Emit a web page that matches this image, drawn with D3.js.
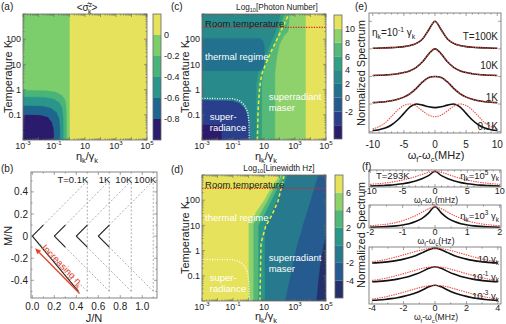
<!DOCTYPE html>
<html><head><meta charset="utf-8">
<script src="https://cdn.jsdelivr.net/npm/d3@7"></script>
<style>body{margin:0;background:#fff} svg{font-family:'Liberation Sans',Arial,sans-serif}</style>
</head><body><script>
// ---------------- data ----------------
// (a) <sigma_z> contour bands, polygons in (log10 eta/gamma, log10 T)
const aEdges = [-1.0, -0.8, -0.6, -0.4, -0.2, 0, 0.2];
const aLabels = [0, -0.2, -0.4, -0.6, -0.8];
const aRegions = [
  {band: 5, pts: [[-3,-2],[5,-2],[5,3],[-3,3]]},
  {band: 4, pts: [[-3,-2],[0,-2],[0,3],[-3,3]]},
  {band: 3, pts: [[-3,-2],[-0.2,-2],[-0.2,-1],[-0.22,-0.65],[-0.3,-0.4],[-0.5,-0.22],[-0.9,-0.1],[-1.5,-0.05],[-3,-0.03]]},
  {band: 2, pts: [[-3,-2],[-0.4,-2],[-0.41,-1.1],[-0.47,-0.75],[-0.65,-0.52],[-1.0,-0.38],[-1.6,-0.31],[-3,-0.29]]},
  {band: 1, pts: [[-3,-2],[-0.62,-2],[-0.62,-1.5],[-0.68,-1.15],[-0.85,-0.9],[-1.2,-0.74],[-1.7,-0.66],[-3,-0.64]]},
  {band: 0, pts: [[-3,-2],[-1.0,-2],[-1.03,-1.6],[-1.15,-1.3],[-1.4,-1.1],[-1.9,-1.02],[-3,-1.0]]}
];

// (c) log10 photon number
const cEdges = [-6, -4, -2, 0, 2, 4, 6, 8, 10, 12];
const cLabels = [10, 8, 6, 4, 2, 0, -2];
const cRegions = [
  {band: 7, pts: [[-3,-2],[5,-2],[5,3],[-3,3]]},
  {band: 8, pts: [[3.7,-2],[5,-2],[5,3],[3.7,3]]},
  {band: 6, pts: [[-3,-2],[1.7,-2],[1.7,0.6],[1.8,1.2],[2.0,1.8],[2.3,2.15],[2.55,2.3],[2.6,2.6],[2.65,3],[-3,3]]},
  {band: 5, pts: [[-3,-2],[0.85,-2],[0.85,0.2],[0.95,0.7],[1.25,1.2],[1.6,1.7],[1.9,2.2],[2.1,2.6],[2.3,3],[-3,3]]},
  {band: 4, pts: [[-3,-2],[0.5,-2],[0.5,0.2],[0.62,0.7],[0.95,1.15],[1.3,1.65],[1.65,2.15],[1.9,2.6],[2.05,3],[-3,3]]},
  {band: 3, pts: [[-3,0.75],[0.75,0.75],[0.95,0.85],[1.02,1.1],[1.02,1.7],[0.95,1.92],[0.75,2.03],[-3,2.03]]},
  {band: 1, pts: [[-3,-2],[0.08,-2],[0.05,-1.4],[-0.05,-1.05],[-0.25,-0.75],[-0.55,-0.55],[-1.0,-0.45],[-3,-0.42]]},
  {band: 0, pts: [[-3,-2],[-1.73,-2],[-1.75,-1.4],[-3,-1.4]]}
];
const cDashed = [[0.57,-2],[0.62,-0.8],[0.72,0.1],[0.85,0.6],[1.1,1.0],[1.45,1.5],[2.0,2.2],[2.3,2.6],[2.6,3]];

// (d) log10 linewidth
const dEdges = [-6, -4, -2, 0, 2, 4, 6, 8];
const dLabels = [6, 4, 2, 0, -2, -4];
const dRegions = [
  {band: 1, pts: [[-3,-2],[5,-2],[5,3],[-3,3]]},
  {band: 2, pts: [[-3,-2],[2.35,-2],[2.7,-1],[3.1,0.15],[3.6,1.2],[4.0,2.0],[4.3,2.6],[4.5,3],[-3,3]]},
  {band: 0, pts: [[4.4,-2],[5,-2],[5,0.55],[4.85,0.2],[4.65,-0.5],[4.5,-1.3]]},
  {band: 3, pts: [[-3,-2],[1.05,-2],[1.05,0.9],[1.35,1.3],[1.7,1.8],[2.1,2.4],[2.35,2.7],[2.5,3],[-3,3]]},
  {band: 4, pts: [[-3,-2],[0.63,-2],[0.63,1.0],[0.95,1.35],[1.4,1.9],[1.85,2.45],[2.1,2.7],[2.3,3],[-3,3]]},
  {band: 5, pts: [[-3,-2],[0.31,-2],[0.31,1.05],[0.7,1.4],[1.2,1.95],[1.65,2.5],[1.95,2.75],[2.15,3],[-3,3]]},
  {band: 6, pts: [[-3,-2],[0.0,-2],[0.0,1.1],[0.4,1.45],[1.0,2.0],[1.5,2.55],[1.8,2.8],[2.0,3],[-3,3]]}
];
const dDashed = [[0.74,-2],[0.78,-0.5],[0.81,0.3],[1.1,0.95],[1.5,1.4],[1.9,1.95],[2.2,2.7],[2.3,3]];

// superradiance boundary (white dotted) and room temperature (293 K)
const srBoundary = [[-3,-0.35],[-1.0,-0.36],[-0.55,-0.45],[-0.25,-0.62],[-0.05,-0.9],[0.03,-1.3],[0.05,-2]];
const roomT = Math.log10(293);

// (b) angular momentum chevrons
const bTemps = ['T=0.1K', '1K', '10K', '100K'];
const bVertex = [0, 0.2, 0.4, 0.6];
const bSolidUp = [[0.1, 0.1], [0.1, 0.1], [0.1, 0.1], [0.1, 0.1]];
const bSolidDown = [[0.42, -0.5], [0.1, -0.1], [0.1, -0.1], [0.1, -0.1]];
const bArrow = [[0.43, -0.52], [0.025, -0.11]];

// (e) spectra, x in MHz, values normalised to 1
const eX = [-10,-9,-8,-7,-6,-5,-4,-3,-2,-1,0,1,2,3,4,5,6,7,8,9,10];
const eOffsets = [3, 2, 1, 0];
const eTempLabels = ['T=100K', '10K', '1K', '0.1K'];
const eBlack100K = [0.022,0.027,0.034,0.045,0.06,0.08,0.12,0.2,0.36,0.69,1,0.69,0.36,0.2,0.12,0.08,0.06,0.045,0.034,0.027,0.022];
const eRed100K   = [0.022,0.027,0.034,0.045,0.06,0.08,0.12,0.2,0.36,0.69,1,0.69,0.36,0.2,0.12,0.08,0.06,0.045,0.034,0.027,0.022];
const eBlack10K  = [0.035,0.043,0.055,0.072,0.1,0.14,0.21,0.33,0.53,0.82,1,0.82,0.53,0.33,0.21,0.14,0.1,0.072,0.055,0.043,0.035];
const eRed10K    = [0.035,0.043,0.055,0.072,0.1,0.14,0.21,0.33,0.53,0.82,1,0.82,0.53,0.33,0.21,0.14,0.1,0.072,0.055,0.043,0.035];
const eBlack1K   = [0.05,0.065,0.085,0.12,0.17,0.25,0.38,0.57,0.8,0.96,1,0.96,0.8,0.57,0.38,0.25,0.17,0.12,0.085,0.065,0.05];
const eRed1K     = [0.05,0.065,0.085,0.12,0.17,0.25,0.38,0.58,0.81,0.96,1,0.96,0.81,0.58,0.38,0.25,0.17,0.12,0.085,0.065,0.05];
const eBlack01K  = [0.04,0.07,0.13,0.24,0.42,0.66,0.9,1.0,0.96,0.9,0.87,0.9,0.96,1.0,0.9,0.66,0.42,0.24,0.13,0.07,0.04];
const eRed01K    = [0.1,0.18,0.32,0.55,0.78,0.95,1.0,0.92,0.75,0.6,0.54,0.6,0.75,0.92,1.0,0.95,0.78,0.55,0.32,0.18,0.1];

// (f) spectra at room temperature
const f1X = [-10,-9,-8,-7,-6,-5,-4,-3,-2,-1,0,1,2,3,4,5,6,7,8,9,10];
const f1Black = [0.06,0.08,0.1,0.12,0.16,0.21,0.28,0.38,0.52,0.72,1,0.72,0.52,0.38,0.28,0.21,0.16,0.12,0.1,0.08,0.06];
const f1Red   = [0.17,0.2,0.24,0.29,0.36,0.44,0.54,0.66,0.8,0.93,1,0.93,0.8,0.66,0.54,0.44,0.36,0.29,0.24,0.2,0.17];
const f2X = [-2,-1.8,-1.6,-1.4,-1.2,-1,-0.8,-0.6,-0.4,-0.2,0,0.2,0.4,0.6,0.8,1,1.2,1.4,1.6,1.8,2];
const f2Black = [0.035,0.045,0.06,0.075,0.1,0.14,0.2,0.3,0.45,0.7,1,0.7,0.45,0.3,0.2,0.14,0.1,0.075,0.06,0.045,0.035];
const f2Red   = [0.1,0.13,0.16,0.2,0.26,0.34,0.45,0.58,0.74,0.9,1,0.9,0.74,0.58,0.45,0.34,0.26,0.2,0.16,0.13,0.1];
const f3X = [-4,-3.6,-3.2,-2.8,-2.4,-2,-1.6,-1.2,-0.8,-0.4,0,0.4,0.8,1.2,1.6,2,2.4,2.8,3.2,3.6,4];
const f3Offsets = [2, 1, 0];
const f3Labels = [['10 γ','k'], ['10','-1',' γ','k'], ['10','-3',' γ','k']];
const f3Black10 = [0.08,0.1,0.13,0.18,0.24,0.32,0.42,0.55,0.72,0.9,1,0.9,0.72,0.55,0.42,0.32,0.24,0.18,0.13,0.1,0.08];
const f3Red10   = [0.16,0.21,0.28,0.37,0.47,0.58,0.69,0.8,0.9,0.97,1,0.97,0.9,0.8,0.69,0.58,0.47,0.37,0.28,0.21,0.16];
const f3Black01 = [0.07,0.09,0.12,0.17,0.23,0.31,0.41,0.54,0.71,0.9,1,0.9,0.71,0.54,0.41,0.31,0.23,0.17,0.12,0.09,0.07];
const f3Red01   = [0.15,0.2,0.27,0.36,0.46,0.57,0.68,0.79,0.9,0.97,1,0.97,0.9,0.79,0.68,0.57,0.46,0.36,0.27,0.2,0.15];
const f3Black001 = [0.07,0.09,0.12,0.17,0.23,0.31,0.41,0.54,0.71,0.9,1,0.9,0.71,0.54,0.41,0.31,0.23,0.17,0.12,0.09,0.07];
const f3Red001   = [0.15,0.2,0.27,0.36,0.46,0.57,0.68,0.79,0.9,0.97,1,0.97,0.9,0.79,0.68,0.57,0.46,0.36,0.27,0.2,0.15];

// ---------------- styles ----------------
const aColors = ['#2b1b6c','#1f668f','#2a958a','#48b47a','#7ccd6b','#e6e25b'];
const cColors = ['#2c1b6b','#2a3f8b','#26598e','#22718e','#288a8b','#30a184','#56b977','#8fd16a','#e6e25b'];
const dColors = ['#23306a','#255b8e','#277a8d','#2b9788','#52b778','#8fd16a','#e6e25b'];
const INK = '#222', FRAME = '#666';
const TICK_FS = 9, LAB_FS = 11, TXT_FS = 9.5;

const svg = d3.select('body').append('svg').attr('width', 506).attr('height', 324);

// ---------------- helpers ----------------
function rich(parent, x, y, parts, size, anchor, fill) {
  const t = parent.append('text').attr('x', x).attr('y', y)
    .attr('font-size', size).attr('text-anchor', anchor || 'middle').attr('fill', fill || INK);
  let cur = 0;
  parts.forEach(p => {
    const [s, k, dx] = typeof p === 'string' ? [p, 'n', 0] : p;
    const target = k === 'sub' ? size * 0.3 : k === 'sup' ? -size * 0.4 : 0;
    const ts = t.append('tspan').attr('dy', target - cur).attr('font-size', k === 'n' ? size : size * 0.68).text(s);
    if (dx) ts.attr('dx', dx);
    cur = target;
  });
  return t;
}
function vText(x, y, s, size) {
  svg.append('text').attr('transform', `translate(${x},${y}) rotate(-90)`)
    .attr('text-anchor', 'middle').attr('font-size', size).attr('fill', INK).text(s);
}
function frame(g, x0, y0, x1, y1) {
  g.append('rect').attr('x', x0).attr('y', y0).attr('width', x1 - x0).attr('height', y1 - y0)
    .attr('fill', 'none').attr('stroke', FRAME).attr('stroke-width', 0.8);
}
function tick(g, x1, y1, x2, y2, w) {
  g.append('line').attr('x1', x1).attr('y1', y1).attr('x2', x2).attr('y2', y2)
    .attr('stroke', FRAME).attr('stroke-width', w || 0.6);
}
function xTicks(g, x, y0, y1, majors, minors) {
  majors.forEach(v => { tick(g, x(v), y1, x(v), y1 - 3); tick(g, x(v), y0, x(v), y0 + 3); });
  minors.forEach(v => { tick(g, x(v), y1, x(v), y1 - 1.6); tick(g, x(v), y0, x(v), y0 + 1.6); });
}
function yTicks(g, y, x0, x1, majors, minors) {
  majors.forEach(v => { tick(g, x0, y(v), x0 + 3, y(v)); tick(g, x1, y(v), x1 - 3, y(v)); });
  minors.forEach(v => { tick(g, x0, y(v), x0 + 1.6, y(v)); tick(g, x1, y(v), x1 - 1.6, y(v)); });
}
const etaGamma = ['η', ['k', 'sub'], ['/γ', 'n'], ['k', 'sub']];

function colorbar(x0, x1, y0, y1, edges, colors, labels) {
  const y = d3.scaleLinear().domain([edges[0], edges[edges.length - 1]]).range([y1, y0]);
  const g = svg.append('g');
  colors.forEach((c, i) => g.append('rect').attr('x', x0).attr('width', x1 - x0)
    .attr('y', y(edges[i + 1])).attr('height', y(edges[i]) - y(edges[i + 1])).attr('fill', c));
  frame(g, x0, y0, x1, y1);
  labels.forEach(v => g.append('text').attr('x', x1 + 3).attr('y', y(v) + 3.2)
    .attr('font-size', TICK_FS).attr('fill', INK).text(v));
}

function contourPanel(id, x0, x1, y0, y1, regions, colors, tickY, xlabY) {
  const x = d3.scaleLinear().domain([-3, 5]).range([x0, x1]);
  const y = d3.scaleLinear().domain([-2, 3]).range([y1, y0]);
  svg.append('clipPath').attr('id', id).append('rect')
    .attr('x', x0).attr('y', y0).attr('width', x1 - x0).attr('height', y1 - y0);
  const g = svg.append('g').attr('clip-path', `url(#${id})`);
  const line = d3.line().x(d => x(d[0])).y(d => y(d[1]));
  regions.forEach(r => g.append('path').attr('d', line(r.pts) + 'Z')
    .attr('fill', colors[r.band]).attr('stroke', colors[r.band]).attr('stroke-width', 0.3));
  const t = svg.append('g');
  const decX = d3.range(-3, 6), decY = d3.range(-2, 4);
  const minX = [], minY = [];
  decX.forEach(d => [2,3,4,5,6,7,8,9].forEach(m => { const v = d + Math.log10(m); if (v < 5) minX.push(v); }));
  decY.forEach(d => [2,3,4,5,6,7,8,9].forEach(m => { const v = d + Math.log10(m); if (v < 3) minY.push(v); }));
  xTicks(t, x, y0, y1, decX, minX);
  yTicks(t, y, x0, x1, decY, minY);
  frame(t, x0, y0, x1, y1);
  [-3, -1, 1, 3, 5].forEach(e => {
    const parts = e === 1 ? ['10'] : ['10', [String(e), 'sup']];
    rich(t, x(e), tickY, parts, TICK_FS, 'middle');
  });
  [[-1, '0.1'], [0, '1'], [1, '10'], [2, '100']].forEach(([v, s]) =>
    t.append('text').attr('x', x0 - 2).attr('y', y(v) + 3.2).attr('text-anchor', 'end')
      .attr('font-size', TICK_FS).attr('fill', INK).text(s));
  rich(t, (x0 + x1) / 2 + 2, xlabY, etaGamma, LAB_FS, 'middle');
  return {x, y, g, t};
}

// ---------------- panel (a) ----------------
const A = contourPanel('clipA', 23, 147, 14, 140, aRegions, aColors, 149, 160);
vText(12, 77, 'Temperature K', LAB_FS);
colorbar(153, 161, 14, 140, aEdges, aColors, aLabels);
rich(svg, 87, 11, ['<σ̂', ['z', 'sup'], ['k', 'sub', -4], ['>', 'n']], 10, 'middle');
svg.append('text').attr('x', 1).attr('y', 10).attr('font-size', 10).attr('fill', INK).text('(a)');

// ---------------- panel (c) ----------------
const C = contourPanel('clipC', 202, 326, 14, 140, cRegions, cColors, 149, 160);
vText(189, 77, 'Temperature K', LAB_FS);
colorbar(334, 342, 15, 139, cEdges, cColors, cLabels);
rich(svg, 277, 9.5, ['Log', ['10', 'sub'], ['[Photon Number]', 'n']], 8.2, 'middle');
svg.append('text').attr('x', 171).attr('y', 10).attr('font-size', 10).attr('fill', INK).text('(c)');

// ---------------- panel (d) ----------------
const D = contourPanel('clipD', 202, 326, 175, 301, dRegions, dColors, 309.5, 319.5);
vText(189, 238, 'Temperature K', LAB_FS);
colorbar(335, 343, 175, 298, dEdges, dColors, dLabels);
rich(svg, 279, 171, ['Log', ['10', 'sub'], ['[Linewidth Hz]', 'n']], 8.2, 'middle');
svg.append('text').attr('x', 171).attr('y', 173).attr('font-size', 10).attr('fill', INK).text('(d)');

// overlays on (c) and (d)
[[C, cDashed], [D, dDashed]].forEach(([P, dash]) => {
  const line = d3.line().x(d => P.x(d[0])).y(d => P.y(d[1]));
  P.g.append('path').attr('d', line(dash)).attr('fill', 'none')
    .attr('stroke', '#f2e93a').attr('stroke-width', 1.5).attr('stroke-dasharray', '3.5,2.5');
  P.g.append('path').attr('d', line(srBoundary)).attr('fill', 'none')
    .attr('stroke', '#fff').attr('stroke-width', 1.3).attr('stroke-dasharray', '1,1.5');
  P.g.append('line').attr('x1', P.x(-3)).attr('x2', P.x(5)).attr('y1', P.y(roomT)).attr('y2', P.y(roomT))
    .attr('stroke', '#d8262a').attr('stroke-width', 1.2).attr('stroke-dasharray', '1.3,1.3');
  const lab = (s, xx, yy, fill) => P.g.append('text').attr('x', xx).attr('y', yy)
    .attr('font-size', TXT_FS).attr('fill', fill).text(s);
  const top = P.y(3);
  lab('Room temperature', P.x(-2.8), top + 12.5, '#1c1c1c');
  lab('thermal regime', P.x(-2.8), top + 46, '#fff');
  lab('super-', P.x(-2.5), top + 106, '#fff');
  lab('radiance', P.x(-2.5), top + 117, '#fff');
  lab('superradiant', P.x(1.3), top + 86, '#fff');
  lab('maser', P.x(1.3), top + 97, '#fff');
});

// ---------------- panel (b) ----------------
(function () {
  const x = d3.scaleLinear().domain([-0.012, 1.134]).range([31, 157]);
  const y = d3.scaleLinear().domain([-0.56, 0.58]).range([298, 172]);
  const g = svg.append('g');
  const seg = (a, b, solid) => g.append('line')
    .attr('x1', x(a[0])).attr('y1', y(a[1])).attr('x2', x(b[0])).attr('y2', y(b[1]))
    .attr('stroke', solid ? '#222' : '#9a9a9a').attr('stroke-width', solid ? 1.1 : 0.8)
    .attr('stroke-dasharray', solid ? null : '2,1.8');
  bVertex.forEach((v, i) => {
    seg([v, 0], [v + 0.5, 0.5], false);
    seg([v, 0], [v + 0.5, -0.5], false);
    seg([v + 0.5, -0.5], [v + 0.5, 0.5], false);
    seg([v, 0], [v + bSolidUp[i][0], bSolidUp[i][1]], true);
    seg([v, 0], [v + bSolidDown[i][0], bSolidDown[i][1]], true);
    g.append('text').attr('x', x(v + 0.5) + (i === 3 ? 3 : 1)).attr('y', 183).attr('text-anchor', 'end')
      .attr('font-size', 9.5).attr('fill', INK).text(bTemps[i]);
  });
  const [p0, p1] = bArrow.map(p => [x(p[0]), y(p[1])]);
  const ang = Math.atan2(p1[1] - p0[1], p1[0] - p0[0]);
  const hl = 6, hw = 2.6;
  const base = [p1[0] - hl * Math.cos(ang), p1[1] - hl * Math.sin(ang)];
  g.append('line').attr('x1', p0[0]).attr('y1', p0[1]).attr('x2', base[0]).attr('y2', base[1])
    .attr('stroke', '#e8402a').attr('stroke-width', 1.3);
  g.append('path').attr('fill', '#e8402a').attr('d',
    `M${p1[0]},${p1[1]}L${base[0] + hw * Math.sin(ang)},${base[1] - hw * Math.cos(ang)}L${base[0] - hw * Math.sin(ang)},${base[1] + hw * Math.cos(ang)}Z`);
  const mid = [(p0[0] + p1[0]) / 2 + 3, (p0[1] + p1[1]) / 2 - 3];
  const rt = rich(g, 0, 0, ['Increasing η', ['k', 'sub']], 9.5, 'middle', '#e8402a');
  rt.attr('transform', `translate(${mid[0]},${mid[1]}) rotate(${ang * 180 / Math.PI + 180})`);
  xTicks(g, x, 172, 298, [0, 0.2, 0.4, 0.6, 0.8, 1.0], [0.1, 0.3, 0.5, 0.7, 0.9, 1.1]);
  yTicks(g, y, 31, 157, [-0.4, -0.2, 0, 0.2, 0.4], [-0.5, -0.3, -0.1, 0.1, 0.3, 0.5]);
  frame(g, 31, 172, 157, 298);
  ['0.0', '0.2', '0.4', '0.6', '0.8', '1.0'].forEach((s, i) => g.append('text')
    .attr('x', x(i * 0.2)).attr('y', 310).attr('text-anchor', 'middle').attr('font-size', 10).attr('fill', INK).text(s));
  [0.4, 0.2, 0, -0.2, -0.4].forEach(v => g.append('text').attr('x', 28).attr('y', y(v) + 3.5)
    .attr('text-anchor', 'end').attr('font-size', 10).attr('fill', INK).text(v));
  g.append('text').attr('x', 94).attr('y', 322).attr('text-anchor', 'middle').attr('font-size', LAB_FS).attr('fill', INK).text('J/N');
  vText(12, 236, 'M/N', LAB_FS);
  svg.append('text').attr('x', 1).attr('y', 172).attr('font-size', 10).attr('fill', INK).text('(b)');
})();

// ---------------- spectra helpers ----------------
function spectrum(g, x, y, xs, vals, off, h, red) {
  const line = d3.line().x((d, i) => x(xs[i])).y(d => y(off + d * h)).curve(d3.curveMonotoneX);
  g.append('path').attr('d', line(vals)).attr('fill', 'none')
    .attr('stroke', red ? '#ee4a44' : '#111').attr('stroke-width', red ? 1.1 : 1.6)
    .attr('stroke-dasharray', red ? '1.4,1' : null);
}
const omegaLab = unit => ['ω', ['f', 'sub'], ['-ω', 'n'], ['c', 'sub'], ['(' + unit + ')', 'n']];

// ---------------- panel (e) ----------------
(function () {
  const x = d3.scaleLinear().domain([-10.6, 10.6]).range([369, 501]);
  const y = d3.scaleLinear().domain([-0.05, 4.3]).range([133, 13]);
  const g = svg.append('g');
  const sets = [[eBlack100K, eRed100K], [eBlack10K, eRed10K], [eBlack1K, eRed1K], [eBlack01K, eRed01K]];
  sets.forEach(([b, r], i) => { spectrum(g, x, y, eX, b, eOffsets[i], 1, false); spectrum(g, x, y, eX, r, eOffsets[i], 1, true); });
  xTicks(g, x, 13, 133, [-10, -5, 0, 5, 10], [-9,-8,-7,-6,-4,-3,-2,-1,1,2,3,4,6,7,8,9]);
  yTicks(g, y, 369, 501, [0, 1, 2, 3, 4], []);
  frame(g, 369, 13, 501, 133);
  [-10, -5, 0, 5, 10].forEach(v => g.append('text').attr('x', x(v)).attr('y', 147.5)
    .attr('text-anchor', 'middle').attr('font-size', 10).attr('fill', INK).text(v));
  rich(g, 436, 158.5, omegaLab('MHz'), LAB_FS, 'middle');
  vText(365, 73, 'Normalized Spectrum', LAB_FS);
  rich(g, 372, 36, ['η', ['k', 'sub'], ['=10', 'n'], ['-1', 'sup'], [' γ', 'n'], ['k', 'sub']], 10, 'start');
  const ly = [39.5, 68.5, 100.5, 130];
  eTempLabels.forEach((s, i) => g.append('text').attr('x', 498).attr('y', ly[i])
    .attr('text-anchor', 'end').attr('font-size', 10).attr('fill', INK).text(s));
  svg.append('text').attr('x', 355).attr('y', 10).attr('font-size', 10).attr('fill', INK).text('(e)');
})();

// ---------------- panel (f) ----------------
(function () {
  const g = svg.append('g');
  const FS = 9, LFS = 8.6;
  // top: eta = 1e5
  const x1 = d3.scaleLinear().domain([-10.2, 10.2]).range([369, 501]);
  const y1 = d3.scaleLinear().domain([0, 1.08]).range([187, 170]);
  spectrum(g, x1, y1, f1X, f1Black, 0, 1, false); spectrum(g, x1, y1, f1X, f1Red, 0, 1, true);
  xTicks(g, x1, 170, 187, [-10, -5, 0, 5, 10], [-9,-8,-7,-6,-4,-3,-2,-1,1,2,3,4,6,7,8,9]);
  frame(g, 369, 170, 501, 187);
  [-10, -5, 0, 5, 10].forEach(v => g.append('text').attr('x', x1(v)).attr('y', 194)
    .attr('text-anchor', 'middle').attr('font-size', FS).attr('fill', INK).text(v));
  rich(g, 436, 202.5, omegaLab('mHz'), LFS, 'middle');
  g.append('text').attr('x', 376).attr('y', 178.5).attr('font-size', 9.5).attr('fill', INK).text('T=293K');
  rich(g, 499, 178.5, ['η', ['k', 'sub'], ['=10', 'n'], ['5', 'sup'], [' γ', 'n'], ['k', 'sub']], 9.5, 'end');
  // middle: eta = 1e3
  const x2 = d3.scaleLinear().domain([-2.04, 2.04]).range([369, 501]);
  const y2 = d3.scaleLinear().domain([0, 1.08]).range([228, 205]);
  spectrum(g, x2, y2, f2X, f2Black, 0, 1, false); spectrum(g, x2, y2, f2X, f2Red, 0, 1, true);
  xTicks(g, x2, 205, 228, [-2, -1, 0, 1, 2], [-1.5, -0.5, 0.5, 1.5]);
  frame(g, 369, 205, 501, 228);
  [-2, -1, 0, 1, 2].forEach(v => g.append('text').attr('x', x2(v)).attr('y', 234.5)
    .attr('text-anchor', 'middle').attr('font-size', FS).attr('fill', INK).text(v));
  rich(g, 436, 243.5, omegaLab('Hz'), LFS, 'middle');
  rich(g, 499, 219, ['η', ['k', 'sub'], ['=10', 'n'], ['3', 'sup'], [' γ', 'n'], ['k', 'sub']], 9.5, 'end');
  // bottom: three couplings
  const x3 = d3.scaleLinear().domain([-4.2, 4.2]).range([369, 501]);
  const y3 = d3.scaleLinear().domain([-0.14, 2.93]).range([304, 247]);
  const sets = [[f3Black10, f3Red10], [f3Black01, f3Red01], [f3Black001, f3Red001]];
  sets.forEach(([b, r], i) => { spectrum(g, x3, y3, f3X, b, f3Offsets[i], 0.87, false); spectrum(g, x3, y3, f3X, r, f3Offsets[i], 0.87, true); });
  xTicks(g, x3, 247, 304, [-4, -2, 0, 2, 4], [-3, -1, 1, 3]);
  frame(g, 369, 247, 501, 304);
  [-4, -2, 0, 2, 4].forEach(v => g.append('text').attr('x', x3(v)).attr('y', 311)
    .attr('text-anchor', 'middle').attr('font-size', FS).attr('fill', INK).text(v));
  rich(g, 436, 320, omegaLab('MHz'), LFS, 'middle');
  const ly = [262, 279.5, 299];
  f3Labels.forEach((l, i) => {
    const parts = l.length === 2 ? [l[0], [l[1], 'sub']] : [l[0], [l[1], 'sup'], [l[2], 'n'], [l[3], 'sub']];
    rich(g, 499, ly[i], parts, 9.5, 'end');
  });
  vText(365, 235, 'Normalized Spectrum', LAB_FS);
  svg.append('text').attr('x', 362).attr('y', 170).attr('font-size', 10).attr('fill', INK).text('(f)');
})();
</script></body></html>
